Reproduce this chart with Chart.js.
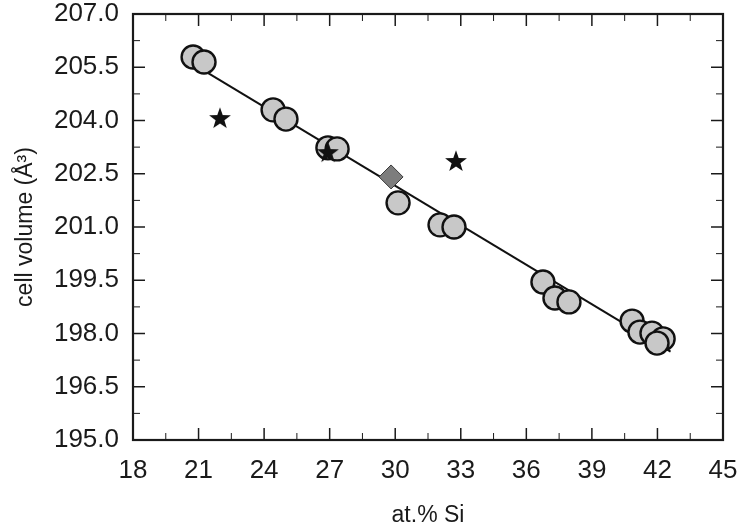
<!DOCTYPE html>
<html>
<head>
<meta charset="utf-8">
<script src="https://cdn.jsdelivr.net/npm/chart.js@4.4.1/dist/chart.umd.min.js"></script>
<style>
  html, body { margin: 0; padding: 0; background: #fff; }
  #wrap { width: 738px; height: 531px; }
</style>
</head>
<body>
<div id="wrap"><canvas id="chart" width="738" height="531"></canvas></div>
<script>
// measured samples (at.% Si, cell volume)
const circleSi = [20.75, 21.25, 24.41, 25.0, 26.92, 27.34, 30.13, 32.05, 32.69, 36.76, 37.31, 37.95, 40.84, 41.2, 41.75, 42.26, 41.98];
const circleVol = [205.79, 205.65, 204.3, 204.04, 203.23, 203.2, 201.68, 201.06, 201.0, 199.45, 199.0, 198.89, 198.35, 198.04, 198.01, 197.85, 197.73];

const starSi = [21.98, 26.92, 32.78];
const starVol = [204.07, 203.11, 202.86];

const diamondSi = [29.81];
const diamondVol = [202.41];

// linear fit line end points
const fitSi = [20.7, 42.6];
const fitVol = [205.61, 197.49];

const xTicks = [18, 21, 24, 27, 30, 33, 36, 39, 42, 45];
const yTicks = [195.0, 196.5, 198.0, 199.5, 201.0, 202.5, 204.0, 205.5, 207.0];

const toPts = (xs, ys) => xs.map((x, i) => ({ x: x, y: ys[i] }));

// filled five point star for the point style
const starImg = document.createElement('canvas');
starImg.width = 24;
starImg.height = 24;
(function () {
  const c = starImg.getContext('2d');
  c.beginPath();
  for (let i = 0; i < 10; i++) {
    const r = i % 2 === 0 ? 11.5 : 4.6;
    const a = -Math.PI / 2 + i * Math.PI / 5;
    const px = 12 + r * Math.cos(a);
    const py = 12.8 + r * Math.sin(a);
    if (i === 0) c.moveTo(px, py); else c.lineTo(px, py);
  }
  c.closePath();
  c.fillStyle = '#111';
  c.fill();
})();

// frame and inward ticks on all four sides
const framePlugin = {
  id: 'frame',
  afterDatasetsDraw(chart) {
    const { ctx, chartArea: a, scales } = chart;
    const xs = scales.x, ys = scales.y;
    ctx.save();
    ctx.strokeStyle = '#1a1a1a';
    const tick = (x1, y1, x2, y2, w) => {
      ctx.lineWidth = w;
      ctx.beginPath();
      ctx.moveTo(x1, y1);
      ctx.lineTo(x2, y2);
      ctx.stroke();
    };
    xTicks.forEach((v, i) => {
      const px = xs.getPixelForValue(v);
      tick(px, a.bottom, px, a.bottom - 12, 1.5);
      tick(px, a.top, px, a.top + 12, 1.5);
      if (i < xTicks.length - 1) {
        const mx = xs.getPixelForValue((v + xTicks[i + 1]) / 2);
        tick(mx, a.bottom, mx, a.bottom - 7, 1);
        tick(mx, a.top, mx, a.top + 7, 1);
      }
    });
    yTicks.forEach((v, i) => {
      const py = ys.getPixelForValue(v);
      tick(a.left, py, a.left + 12, py, 1.5);
      tick(a.right, py, a.right - 12, py, 1.5);
      if (i < yTicks.length - 1) {
        const my = ys.getPixelForValue((v + yTicks[i + 1]) / 2);
        tick(a.left, my, a.left + 7, my, 1);
        tick(a.right, my, a.right - 7, my, 1);
      }
    });
    ctx.lineWidth = 2.2;
    ctx.strokeRect(a.left, a.top, a.right - a.left, a.bottom - a.top);
    ctx.restore();
  }
};

const tickFont = { family: 'Liberation Sans, Arial, sans-serif', size: 26 };
const titleFont = { family: 'Liberation Sans, Arial, sans-serif', size: 23 };

new Chart(document.getElementById('chart'), {
  type: 'scatter',
  data: {
    datasets: [
      {
        label: 'stars',
        data: toPts(starSi, starVol),
        pointStyle: starImg,
        order: 1
      },
      {
        label: 'diamond',
        data: toPts(diamondSi, diamondVol),
        pointStyle: 'rectRot',
        pointRadius: 12,
        backgroundColor: '#7d7d7d',
        borderColor: '#3a3a3a',
        borderWidth: 1,
        order: 2
      },
      {
        label: 'samples',
        data: toPts(circleSi, circleVol),
        pointStyle: 'circle',
        pointRadius: 11.5,
        backgroundColor: '#c8c8c8',
        borderColor: '#111',
        borderWidth: 2.4,
        order: 3
      },
      {
        label: 'fit',
        type: 'line',
        data: toPts(fitSi, fitVol),
        borderColor: '#111',
        borderWidth: 2,
        pointRadius: 0,
        fill: false,
        order: 4
      }
    ]
  },
  options: {
    responsive: false,
    devicePixelRatio: 1,
    animation: false,
    layout: { padding: { top: 14, right: 15, left: 0, bottom: 0 } },
    plugins: { legend: { display: false }, tooltip: { enabled: false } },
    scales: {
      x: {
        type: 'linear',
        min: 18,
        max: 45,
        afterBuildTicks: s => { s.ticks = xTicks.map(v => ({ value: v })); },
        afterFit: s => { s.height = 91; s.paddingLeft = 0; s.paddingRight = 0; },
        grid: { display: false, drawTicks: false },
        border: { display: false },
        ticks: {
          font: tickFont,
          color: '#1a1a1a',
          padding: 15,
          maxRotation: 0,
          autoSkip: false,
          callback: v => String(v)
        },
        title: {
          display: true,
          text: 'at.% Si',
          font: titleFont,
          color: '#1a1a1a',
          padding: { top: 0, bottom: 2 }
        }
      },
      y: {
        type: 'linear',
        min: 195,
        max: 207,
        afterBuildTicks: s => { s.ticks = yTicks.map(v => ({ value: v })); },
        afterFit: s => { s.width = 133; s.paddingTop = 0; s.paddingBottom = 0; },
        grid: { display: false, drawTicks: false },
        border: { display: false },
        ticks: {
          font: tickFont,
          color: '#1a1a1a',
          padding: 14,
          autoSkip: false,
          callback: v => Number(v).toFixed(1)
        },
        title: {
          display: true,
          text: 'cell volume (Å³)',
          font: titleFont,
          color: '#1a1a1a',
          padding: { top: 12, bottom: 0 }
        }
      }
    }
  },
  plugins: [framePlugin]
});
</script>
</body>
</html>
